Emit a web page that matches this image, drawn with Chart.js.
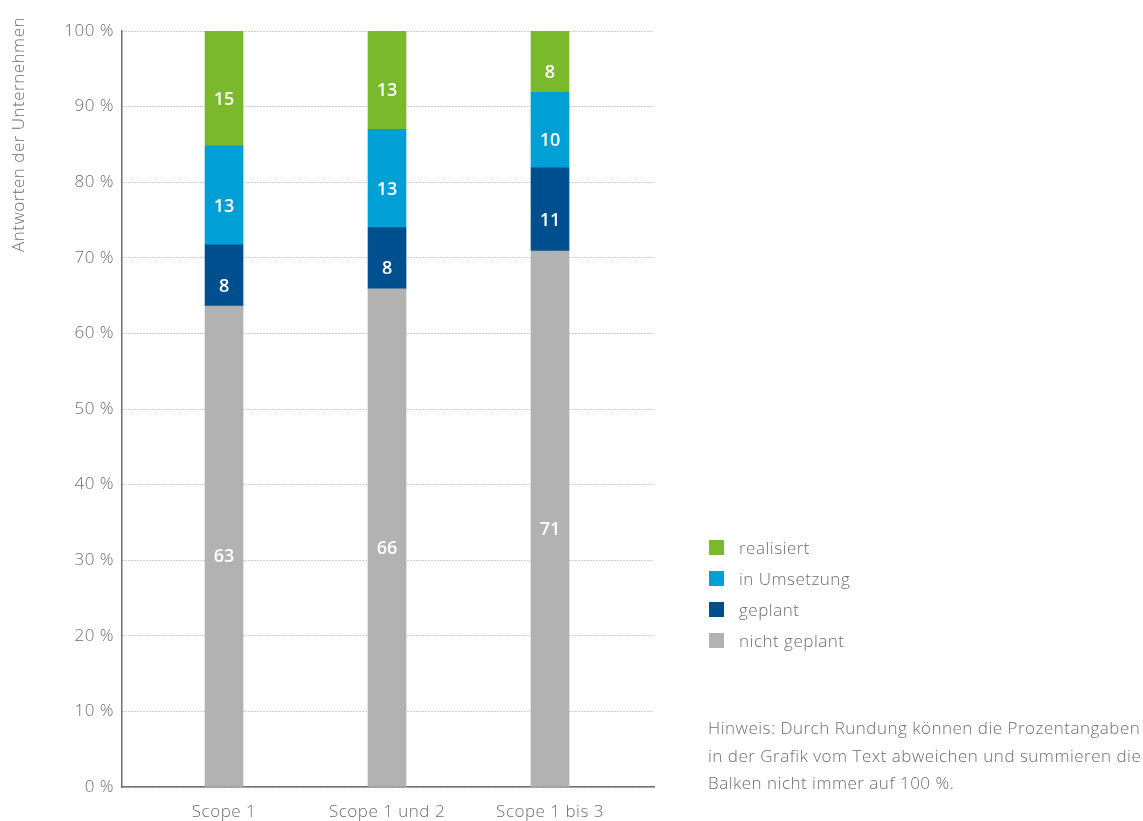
<!DOCTYPE html>
<html>
<head>
<meta charset="utf-8">
<script src="https://cdn.jsdelivr.net/npm/chart.js@4.4.1/dist/chart.umd.min.js"></script>
<style>
  html, body { margin: 0; padding: 0; background: #fff; }
  #wrap { position: relative; width: 1143px; height: 821px; }
  #c { position: absolute; left: 0; top: 0; }
  .txt { font-family: "Open Sans", Roboto, "DejaVu Sans", sans-serif; font-weight: 300; color: #6e6e6e; letter-spacing: 0.5px; }
  #legend { position: absolute; left: 708px; top: 535px; }
  .li { position: relative; height: 31px; font-size: 17px; }
  .sw { position: absolute; left: 1px; top: 5px; width: 15px; height: 15px; }
  .lt { position: absolute; left: 31px; top: 0; line-height: 25px; white-space: nowrap; }
  #note { position: absolute; left: 708px; top: 714px; font-size: 17px; line-height: 27.5px; white-space: nowrap; }
</style>
</head>
<body>
<div id="wrap">
  <canvas id="c" width="1143" height="821"></canvas>
  <div id="legend" class="txt"></div>
  <div id="note" class="txt">Hinweis: Durch Rundung können die Prozentangaben<br>in der Grafik vom Text abweichen und summieren die<br>Balken nicht immer auf 100 %.</div>
</div>
<script>
// ---- data ----
const categories = ['Scope 1', 'Scope 1 und 2', 'Scope 1 bis 3'];
const seriesNames = ['nicht geplant', 'geplant', 'in Umsetzung', 'realisiert'];
// segment heights (percent)
const nichtGeplant = [63.6, 65.9, 70.9];
const geplant = [8.1, 8.1, 11.0];
const inUmsetzung = [13.1, 13.0, 10.0];
const realisiert = [15.2, 13.0, 8.1];
// printed (rounded) labels
const nichtGeplantLabels = [63, 66, 71];
const geplantLabels = [8, 8, 11];
const inUmsetzungLabels = [13, 13, 10];
const realisiertLabels = [15, 13, 8];
const yTicks = [0, 10, 20, 30, 40, 50, 60, 70, 80, 90, 100];
const yTitle = 'Antworten der Unternehmen';
const seriesColors = ['#b2b2b2', '#00508f', '#00a0d6', '#7ab82c'];

const seriesValues = [nichtGeplant, geplant, inUmsetzung, realisiert];
const seriesLabels = [nichtGeplantLabels, geplantLabels, inUmsetzungLabels, realisiertLabels];

const FONT = '"Open Sans", Roboto, "DejaVu Sans", sans-serif';
const TXT = '#6e6e6e';

const datasets = seriesNames.map((name, s) => ({
  label: name,
  data: categories.map((c, i) => ({ x: i, y: seriesValues[s][i] })),
  printed: seriesLabels[s],
  backgroundColor: seriesColors[s],
  borderWidth: 0,
  barThickness: 38,
  grouped: false
}));

const spacing = {
  id: 'spacing',
  beforeDraw(chart) { chart.ctx.letterSpacing = '0.5px'; }
};

// rotated y-axis title, top-aligned above the plot like the reference
const axisTitle = {
  id: 'axisTitle',
  afterDraw(chart) {
    const ctx = chart.ctx;
    ctx.save();
    ctx.letterSpacing = '0.5px';
    ctx.fillStyle = TXT;
    ctx.font = '300 17px ' + FONT;
    ctx.translate(19, 17);
    ctx.rotate(-Math.PI / 2);
    ctx.textAlign = 'right';
    ctx.textBaseline = 'middle';
    ctx.fillText(yTitle, 0, 0);
    ctx.restore();
  }
};

const valueLabels = {
  id: 'valueLabels',
  afterDatasetsDraw(chart) {
    const ctx = chart.ctx;
    ctx.save();
    ctx.letterSpacing = '0px';
    ctx.fillStyle = '#ffffff';
    ctx.font = '600 18px ' + FONT;
    ctx.textAlign = 'center';
    ctx.textBaseline = 'middle';
    chart.data.datasets.forEach((ds, di) => {
      const meta = chart.getDatasetMeta(di);
      meta.data.forEach((bar, i) => {
        const y = (bar.y + bar.base) / 2 + 11;
        ctx.fillText(String(ds.printed[i]), bar.x, y);
      });
    });
    ctx.restore();
  }
};

new Chart(document.getElementById('c'), {
  type: 'bar',
  data: { datasets },
  plugins: [spacing, valueLabels, axisTitle],
  options: {
    responsive: false,
    animation: false,
    layout: { padding: { left: 0, right: 489, top: 31, bottom: 0 } },
    plugins: { legend: { display: false }, tooltip: { enabled: false } },
    scales: {
      x: {
        type: 'linear',
        bounds: 'data',
        offset: false,
        min: -0.626,
        max: 2.638,
        afterBuildTicks: (s) => { s.ticks = categories.map((c, i) => ({ value: i })); },
        afterFit: (s) => { s.height = 34; },
        ticks: {
          callback: (v) => categories[v],
          color: TXT,
          font: { family: FONT, size: 17, weight: '300' },
          padding: 15,
          maxRotation: 0,
          autoSkip: false
        },
        grid: { display: false, drawTicks: false },
        border: { display: true, color: '#707070', width: 1.5 }
      },
      y: {
        stacked: true,
        min: 0,
        max: 100,
        afterBuildTicks: (s) => { s.ticks = yTicks.map(v => ({ value: v })); },
        afterFit: (s) => { s.width = 122; },
        ticks: {
          callback: (v) => v + ' %',
          color: TXT,
          font: { family: FONT, size: 17, weight: '300' },
          padding: 8
        },
        grid: { color: '#9a9a9a', lineWidth: 1, drawTicks: false },
        border: { display: true, color: '#707070', width: 1.5, dash: [1, 2] },
        title: { display: false }
      }
    }
  }
});

// HTML legend (top entry = top segment)
const legend = document.getElementById('legend');
for (let s = seriesNames.length - 1; s >= 0; s--) {
  const li = document.createElement('div');
  li.className = 'li';
  li.innerHTML = '<span class="sw" style="background:' + seriesColors[s] + '"></span><span class="lt">' + seriesNames[s] + '</span>';
  legend.appendChild(li);
}
</script>
</body>
</html>
